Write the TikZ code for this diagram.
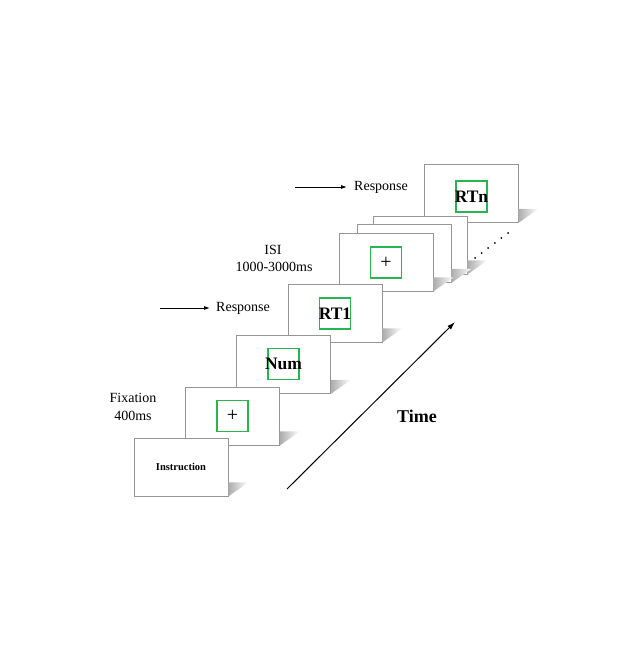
\documentclass[tikz,border=0pt]{standalone}
\usepackage{fontspec}
\setmainfont{Liberation Serif}
\usetikzlibrary{arrows.meta}
\definecolor{boxgreen}{RGB}{40,180,80}
\definecolor{cardgray}{RGB}{150,150,150}
\tikzset{
 card/.style={draw=cardgray, fill=white, line width=0.8pt, minimum width=94pt, minimum height=58pt, inner sep=0pt},
 gbox/.style={draw=boxgreen, line width=1.6pt, minimum width=31pt, minimum height=31pt, inner sep=0pt},
 lbl/.style={font=\fontsize{14}{16}\selectfont, inner sep=0pt},
 big/.style={font=\fontsize{17.5}{19}\selectfont\bfseries, inner sep=0pt},
 plus/.style={font=\fontsize{20}{22}\selectfont, inner sep=0pt},
 cardshade/.style={left color=gray!65, right color=white, draw=none},
 arr/.style={-{Latex[length=6pt,width=4pt]}, line width=0.9pt},
}
\begin{document}
\begin{tikzpicture}[x=1pt,y=-1pt]
\fill[white] (0,0) rectangle (624,660);
\useasboundingbox (0,0) rectangle (624,660);

% card 8 (RTn)
\node[card] (c8) at (471,193.5) {};
\shade[cardshade] (c8.south east) -- ++(0,-14) -- ++(20,0) -- cycle;
\node[gbox] (g8) at (471.5,196.5) {};
\node[big] (t8) at (g8) {RTn};

% stacked cards 7 and 6
\node[card] (c7) at (420,245) {};
\shade[cardshade] (c7.south east) -- ++(0,-14) -- ++(20,0) -- cycle;
\node[card] (c6) at (404,253.5) {};
\shade[cardshade] (c6.south east) -- ++(0,-14) -- ++(20,0) -- cycle;

% card 5 (ISI +)
\node[card] (c5) at (386,262) {};
\shade[cardshade] (c5.south east) -- ++(0,-14) -- ++(20,0) -- cycle;
\node[gbox] (g5) at (386,262.5) {};
\node[plus] (t5) at (g5) {+};

% card 4 (RT1)
\node[card] (c4) at (335,313) {};
\shade[cardshade] (c4.south east) -- ++(0,-14) -- ++(20,0) -- cycle;
\node[gbox] (g4) at (335,313.5) {};
\node[big] (t4) at (g4) {RT1};

% card 3 (Num)
\node[card] (c3) at (283.5,364.5) {};
\shade[cardshade] (c3.south east) -- ++(0,-14) -- ++(20,0) -- cycle;
\node[gbox] (g3) at (283.5,364) {};
\node[big] (t3) at (g3) {Num};

% card 2 (fixation +)
\node[card] (c2) at (232.5,416) {};
\shade[cardshade] (c2.south east) -- ++(0,-14) -- ++(20,0) -- cycle;
\node[gbox] (g2) at (232.5,416) {};
\node[plus] (t2) at (g2) {+};

% card 1 (Instruction)
\node[card] (c1) at (181,467) {};
\shade[cardshade] (c1.south east) -- ++(0,-14) -- ++(20,0) -- cycle;
\node[inner sep=0pt, font=\fontsize{10.5}{12}\selectfont\bfseries] (t1) at (181,467) {Instruction};

% dots
\foreach \i in {0,...,5}
  \fill (475+\i*6.6,258-\i*5) circle (1pt);

% labels
\node[lbl] (fix) at (133,398) {Fixation};
\node[lbl] (fixms) at (133,416) {400ms};
\node[lbl] (isi) at (273,250) {ISI};
\node[lbl] (isims) at (274,267) {1000-3000ms};
\node[lbl, anchor=west] (resp1) at (216,308) {Response};
\node[lbl, anchor=west] (resp2) at (354,187) {Response};

\coordinate (r1s) at (160,308);
\coordinate (r2s) at (295,187);
\draw[arr] (r1s) -- (r1s -| 210,0);
\draw[arr] (r2s) -- (r2s -| 347,0);

% time arrow
\coordinate (ts) at (287,489);
\coordinate (te) at (455,322);
\draw[-{Latex[length=8pt,width=5pt]}, line width=1pt] (ts) -- (te);
\node[inner sep=0pt, font=\fontsize{18}{20}\selectfont\bfseries] (time) at (417,416) {Time};
\end{tikzpicture}
\end{document}
